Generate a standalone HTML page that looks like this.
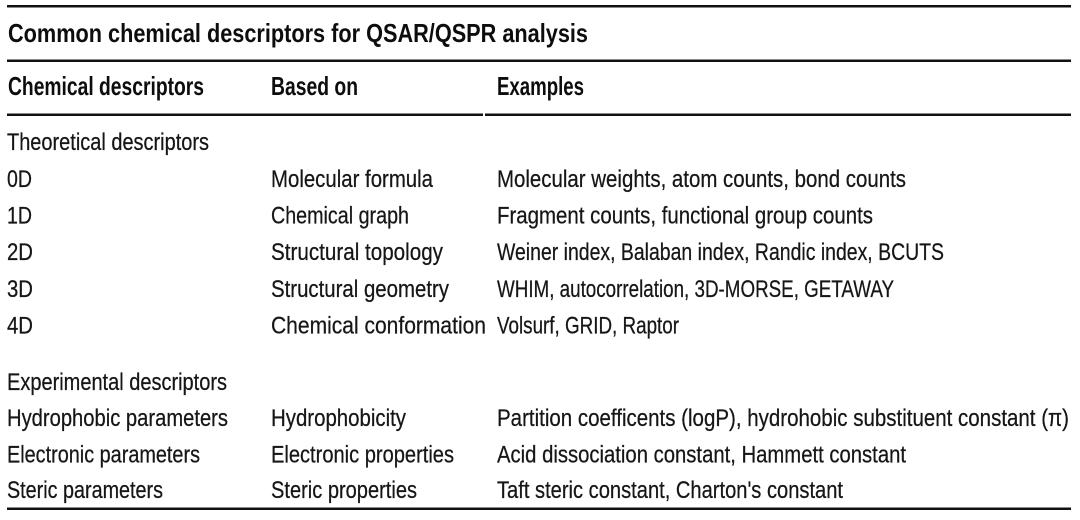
<!DOCTYPE html>
<html>
<head>
<meta charset="utf-8">
<style>
  html, body { margin:0; padding:0; background:#fff; }
  body { width:1080px; height:520px; overflow:hidden; }
  svg { display:block; }
  text { font-family:"Liberation Sans", sans-serif; fill:#161616; }
  .b { font-weight:bold; font-size:26px; fill:#0d0d0d; }
  .r { font-size:24px; stroke:#161616; stroke-width:0.25px; }
</style>
</head>
<body>
<svg width="1080" height="520" viewBox="0 0 1080 520" xmlns="http://www.w3.org/2000/svg">
  <!-- rules -->
  <rect x="7" y="5" width="1064" height="2.5" fill="#111"/>
  <rect x="7" y="59.5" width="1064" height="2.5" fill="#111"/>
  <rect x="7" y="113.5" width="476" height="2.5" fill="#111"/>
  <rect x="485" y="113.5" width="586" height="2.5" fill="#111"/>
  <rect x="7" y="507.5" width="1064" height="2.5" fill="#111"/>

  <!-- title -->
  <text class="b" x="8" y="42" textLength="580" lengthAdjust="spacingAndGlyphs">Common chemical descriptors for QSAR/QSPR analysis</text>

  <!-- header -->
  <text class="b" x="8" y="95" textLength="196" lengthAdjust="spacingAndGlyphs">Chemical descriptors</text>
  <text class="b" x="271" y="95" textLength="87" lengthAdjust="spacingAndGlyphs">Based on</text>
  <text class="b" x="497" y="95" textLength="87" lengthAdjust="spacingAndGlyphs">Examples</text>

  <!-- theoretical -->
  <text class="r" x="7" y="150" textLength="202" lengthAdjust="spacingAndGlyphs">Theoretical descriptors</text>

  <text class="r" x="7" y="187" textLength="25" lengthAdjust="spacingAndGlyphs">0D</text>
  <text class="r" x="271" y="187" textLength="162" lengthAdjust="spacingAndGlyphs">Molecular formula</text>
  <text class="r" x="497" y="187" textLength="409" lengthAdjust="spacingAndGlyphs">Molecular weights, atom counts, bond counts</text>

  <text class="r" x="7" y="223.5" textLength="25" lengthAdjust="spacingAndGlyphs">1D</text>
  <text class="r" x="271" y="223.5" textLength="138" lengthAdjust="spacingAndGlyphs">Chemical graph</text>
  <text class="r" x="497" y="223.5" textLength="376" lengthAdjust="spacingAndGlyphs">Fragment counts, functional group counts</text>

  <text class="r" x="7" y="260" textLength="26" lengthAdjust="spacingAndGlyphs">2D</text>
  <text class="r" x="271" y="260" textLength="172" lengthAdjust="spacingAndGlyphs">Structural topology</text>
  <text class="r" x="497" y="260" textLength="447" lengthAdjust="spacingAndGlyphs">Weiner index, Balaban index, Randic index, BCUTS</text>

  <text class="r" x="7" y="297" textLength="26" lengthAdjust="spacingAndGlyphs">3D</text>
  <text class="r" x="271" y="297" textLength="178" lengthAdjust="spacingAndGlyphs">Structural geometry</text>
  <text class="r" x="497" y="297" textLength="397" lengthAdjust="spacingAndGlyphs">WHIM, autocorrelation, 3D-MORSE, GETAWAY</text>

  <text class="r" x="7" y="333.5" textLength="26" lengthAdjust="spacingAndGlyphs">4D</text>
  <text class="r" x="271" y="333.5" textLength="215" lengthAdjust="spacingAndGlyphs">Chemical conformation</text>
  <text class="r" x="497" y="333.5" textLength="182" lengthAdjust="spacingAndGlyphs">Volsurf, GRID, Raptor</text>

  <!-- experimental -->
  <text class="r" x="7" y="390" textLength="220" lengthAdjust="spacingAndGlyphs">Experimental descriptors</text>

  <text class="r" x="7" y="426" textLength="221" lengthAdjust="spacingAndGlyphs">Hydrophobic parameters</text>
  <text class="r" x="271" y="426" textLength="135" lengthAdjust="spacingAndGlyphs">Hydrophobicity</text>
  <text class="r" x="497" y="426" textLength="572" lengthAdjust="spacingAndGlyphs">Partition coefficents (logP), hydrohobic substituent constant (π)</text>

  <text class="r" x="7" y="462.5" textLength="193" lengthAdjust="spacingAndGlyphs">Electronic parameters</text>
  <text class="r" x="271" y="462.5" textLength="183" lengthAdjust="spacingAndGlyphs">Electronic properties</text>
  <text class="r" x="497" y="462.5" textLength="409" lengthAdjust="spacingAndGlyphs">Acid dissociation constant, Hammett constant</text>

  <text class="r" x="7" y="498" textLength="156" lengthAdjust="spacingAndGlyphs">Steric parameters</text>
  <text class="r" x="271" y="498" textLength="146" lengthAdjust="spacingAndGlyphs">Steric properties</text>
  <text class="r" x="497" y="498" textLength="346" lengthAdjust="spacingAndGlyphs">Taft steric constant, Charton's constant</text>
</svg>
</body>
</html>
